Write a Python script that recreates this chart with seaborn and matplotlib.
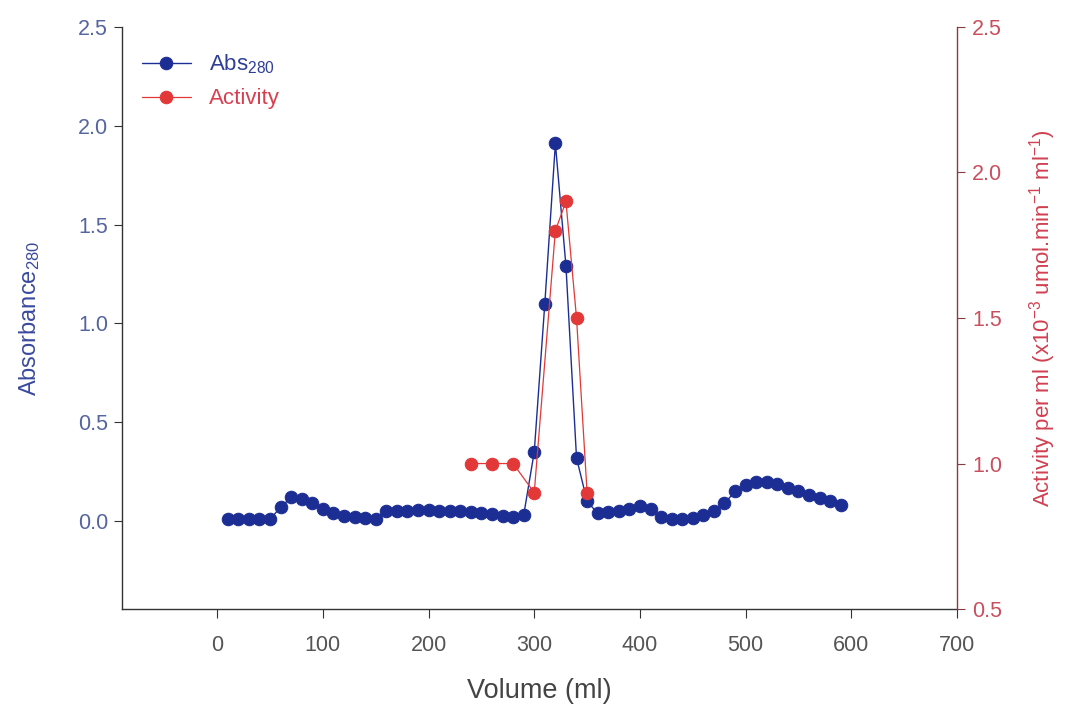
import numpy as np
import pandas as pd
import matplotlib
matplotlib.use("Agg")
import matplotlib.pyplot as plt
import seaborn as sns

# Elution profile: absorbance at 280 nm per fraction
volume_ml = list(range(10, 600, 10))
absorbance = [
    0.01, 0.01, 0.01, 0.01, 0.01, 0.07, 0.12, 0.11, 0.09, 0.06,
    0.04, 0.025, 0.02, 0.015, 0.01, 0.05, 0.05, 0.05, 0.055, 0.055,
    0.05, 0.05, 0.05, 0.045, 0.04, 0.035, 0.025, 0.02, 0.03, 0.35,
    1.10, 1.91, 1.29, 0.32, 0.10, 0.04, 0.045, 0.05, 0.06, 0.075,
    0.06, 0.02, 0.01, 0.01, 0.015, 0.03, 0.05, 0.09, 0.15, 0.185,
    0.2, 0.2, 0.19, 0.17, 0.15, 0.13, 0.115, 0.1, 0.08,
]

# Enzyme activity of selected fractions
activity_volume_ml = [240, 260, 280, 300, 320, 330, 340, 350]
activity = [1.0, 1.0, 1.0, 0.9, 1.8, 1.9, 1.5, 0.9]

x_ticks = [0, 100, 200, 300, 400, 500, 600, 700]
left_ticks = [0.0, 0.5, 1.0, 1.5, 2.0, 2.5]
right_ticks = [0.5, 1.0, 1.5, 2.0, 2.5]

sns.set_style("ticks")
plt.rcParams["font.family"] = ["Liberation Sans", "DejaVu Sans"]
plt.rcParams["mathtext.fontset"] = "custom"
plt.rcParams["mathtext.rm"] = "Liberation Sans"
plt.rcParams["mathtext.it"] = "Liberation Sans:italic"
plt.rcParams["mathtext.bf"] = "Liberation Sans:bold"

BLUE = "#1c2e94"
RED = "#e23838"
LEFT_TXT = "#5565a0"
RIGHT_TXT = "#c8505e"
GREY_TXT = "#555555"

abs_df = pd.DataFrame({"Volume": volume_ml, "Abs": absorbance})
act_df = pd.DataFrame({"Volume": activity_volume_ml, "Activity": activity})

fig = plt.figure(figsize=(10.65, 7.05), dpi=100)
ax = fig.add_axes([0.1146, 0.136, 0.784, 0.826])
ax2 = ax.twinx()

sns.lineplot(data=abs_df, x="Volume", y="Abs", ax=ax, color=BLUE,
             marker="o", markersize=9, markeredgecolor=BLUE,
             linewidth=1.0, label="Abs$_{\\mathrm{280}}$", legend=False)
sns.lineplot(data=act_df, x="Volume", y="Activity", ax=ax2, color=RED,
             marker="o", markersize=9, markeredgecolor=RED,
             linewidth=0.9, label="Activity", legend=False)

ax.set_xlim(-90, 700)
ax.set_ylim(-0.445, 2.5)
ax2.set_ylim(0.5, 2.5)

ax.set_xticks(x_ticks)
ax.set_yticks(left_ticks)
ax2.set_yticks(right_ticks)
ax.set_yticklabels([f"{v:.1f}" for v in left_ticks])
ax2.set_yticklabels([f"{v:.1f}" for v in right_ticks])

ax.spines["top"].set_visible(False)
ax2.spines["top"].set_visible(False)
ax2.spines["left"].set_visible(False)
ax2.spines["bottom"].set_visible(False)
ax.spines["right"].set_visible(False)
for s in ("left", "bottom"):
    ax.spines[s].set_color("#333333")
    ax.spines[s].set_linewidth(1.0)
ax2.spines["right"].set_color("#8a3a44")
ax2.spines["right"].set_linewidth(1.0)

ax.tick_params(axis="x", direction="out", length=6.5, colors="#333333",
               labelcolor=GREY_TXT, labelsize=15.5, pad=12)
ax.tick_params(axis="y", direction="out", length=6, colors="#333333",
               labelcolor=LEFT_TXT, labelsize=15.5, pad=4)
ax2.tick_params(axis="y", direction="out", length=6, colors="#8a3a44",
                labelcolor=RIGHT_TXT, labelsize=15.5, pad=5)

ax.set_xlabel("Volume (ml)", fontsize=19.5, color="#444444", labelpad=16)
ax.set_ylabel("Absorbance$_{\\mathrm{280}}$", fontsize=17, color="#3a4a9e",
              labelpad=26)
ax2.set_ylabel("Activity per ml (x10$^{\\mathrm{-3}}$ umol.min$^{\\mathrm{-1}}$ ml$^{\\mathrm{-1}}$)",
               fontsize=16, color="#d04050", labelpad=18)

h1, l1 = ax.get_legend_handles_labels()
h2, l2 = ax2.get_legend_handles_labels()
leg = ax2.legend(h1 + h2, l1 + l2, loc="upper left", frameon=False,
                 fontsize=16, handlelength=2.2, handletextpad=0.8,
                 bbox_to_anchor=(0.0, 0.99), labelspacing=0.55)
leg.get_texts()[0].set_color("#2e3e98")
leg.get_texts()[1].set_color("#d84050")

fig.savefig("out.png", dpi=100, facecolor="white")
